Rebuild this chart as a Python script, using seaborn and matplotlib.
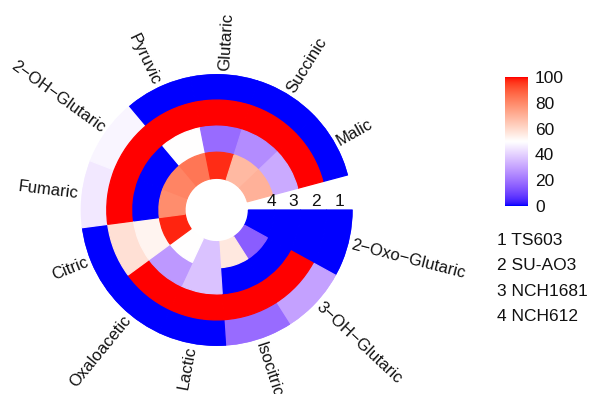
import numpy as np
import pandas as pd
import matplotlib
matplotlib.use("Agg")
import matplotlib.pyplot as plt
import seaborn as sns
from matplotlib.colors import ListedColormap, Normalize
from matplotlib.cm import ScalarMappable

# ---------------- data ----------------
metabolites = ["2−Oxo−Glutaric", "3−OH−Glutaric", "Isocitric", "Lactic",
               "Oxaloacetic", "Citric", "Fumaric", "2−OH−Glutaric",
               "Pyruvic", "Glutaric", "Succinic", "Malic"]
samples = ["TS603", "SU-AO3", "NCH1681", "NCH612"]
ts603   = [0, 30, 18, 0, 0, 0, 45, 48, 0, 0, 0, 0]
su_ao3  = [0, 100, 100, 100, 100, 58, 100, 100, 100, 100, 100, 100]
nch1681 = [0, 0, 0, 37, 28, 53, 0, 0, 50, 18, 25, 32]
nch612  = [0, 15, 56, 37, 50, 98, 79, 81, 84, 97, 68, 70]
cbar_ticks = [0, 20, 40, 60, 80, 100]

df = pd.DataFrame([ts603, su_ao3, nch1681, nch612], index=samples, columns=metabolites)

# ---------------- LAB colour ramp (blue - white - red) ----------------
def srgb_to_lab(rgb):
    rgb = np.asarray(rgb, float)
    lin = np.where(rgb <= 0.04045, rgb / 12.92, ((rgb + 0.055) / 1.055) ** 2.4)
    M = np.array([[0.4124564, 0.3575761, 0.1804375],
                  [0.2126729, 0.7151522, 0.0721750],
                  [0.0193339, 0.1191920, 0.9503041]])
    xyz = lin @ M.T / np.array([0.95047, 1.0, 1.08883])
    d = 6 / 29
    f = np.where(xyz > d ** 3, np.cbrt(xyz), xyz / (3 * d * d) + 4 / 29)
    L = 116 * f[..., 1] - 16
    a = 500 * (f[..., 0] - f[..., 1])
    b = 200 * (f[..., 1] - f[..., 2])
    return np.stack([L, a, b], -1)

def lab_to_srgb(lab):
    lab = np.asarray(lab, float)
    fy = (lab[..., 0] + 16) / 116
    fx = fy + lab[..., 1] / 500
    fz = fy - lab[..., 2] / 200
    d = 6 / 29
    f = np.stack([fx, fy, fz], -1)
    xyz = np.where(f > d, f ** 3, 3 * d * d * (f - 4 / 29)) * np.array([0.95047, 1.0, 1.08883])
    Minv = np.array([[3.2404542, -1.5371385, -0.4985314],
                     [-0.9692660, 1.8760108, 0.0415560],
                     [0.0556434, -0.2040259, 1.0572252]])
    lin = np.clip(xyz @ Minv.T, 0, 1)
    rgb = np.where(lin <= 0.0031308, 12.92 * lin, 1.055 * lin ** (1 / 2.4) - 0.055)
    return np.clip(rgb, 0, 1)

anchors_v = np.array([0, 50, 100])
anchors_c = srgb_to_lab([[0, 0, 1], [1, 1, 1], [1, 0, 0]])
vals = np.linspace(0, 100, 256)
lab = np.stack([np.interp(vals, anchors_v, anchors_c[:, k]) for k in range(3)], -1)
cmap = ListedColormap(lab_to_srgb(lab))
norm = Normalize(0, 100)

# ---------------- figure ----------------
sns.set_style("white")
plt.rcParams["font.family"] = ["Liberation Sans", "DejaVu Sans"]
plt.rcParams["axes.unicode_minus"] = True
TXT = "#111111"

W, H = 592, 394
fig = plt.figure(figsize=(W / 100, H / 100), dpi=100)

cx, cy, R = 216.7, 210.0, 136.0
hole = 1.216
ax = fig.add_axes([(cx - R) / W, (H - cy - R) / H, 2 * R / W, 2 * R / H], projection="polar")
ax.set_theta_zero_location("E")
ax.set_theta_direction(-1)
ax.set_ylim(0, hole + 4)
ax.set_axis_off()

n = len(metabolites)
gap = 15.0
w = (360.0 - gap) / n
thetas = np.radians((np.arange(n) + 0.5) * w)
for i, s in enumerate(samples):
    cols = cmap(norm(df.loc[s].values))
    ax.bar(thetas, 1.0, width=np.radians(w), bottom=hole + (3 - i),
           color=cols, edgecolor=cols, linewidth=0.9, align="center")

r_lab = (hole + 4) * 139.0 / R
for j, name in enumerate(metabolites):
    c = (j + 0.5) * w
    a = (-c) % 360
    if 90 < a < 270:
        rot, ha = a - 180, "right"
    else:
        rot, ha = (a if a <= 90 else a - 360), "left"
    ax.text(np.radians(c), r_lab, name, rotation=rot, ha=ha, va="center",
            rotation_mode="anchor", fontsize=12, color=TXT, clip_on=False)

# ring numbers in the gap
for k, xo in zip(["4", "3", "2", "1"], [55, 76.6, 99.3, 123.3]):
    fig.text((cx + xo) / W, 1 - 202 / H, k, ha="center", va="center",
             fontsize=12.5, color=TXT)

# colour bar
cax = fig.add_axes([505 / W, 1 - 206 / H, 23 / W, 129 / H])
cb = fig.colorbar(ScalarMappable(norm=norm, cmap=cmap), cax=cax, ticks=cbar_ticks)
cb.outline.set_visible(False)
cb.minorticks_off()
cax.tick_params(axis="y", which="major", direction="in", color="white", length=5,
                width=1.2, left=True, right=True, labelleft=False, labelright=True,
                labelsize=12.5, pad=5, labelcolor=TXT)

# sample legend
for i, s in enumerate(samples):
    fig.text(497 / W, 1 - (240 + 25.5 * i) / H, f"{i + 1} {s}", ha="left", va="center",
             fontsize=12.5, color=TXT)

fig.savefig("out.png", dpi=100)
